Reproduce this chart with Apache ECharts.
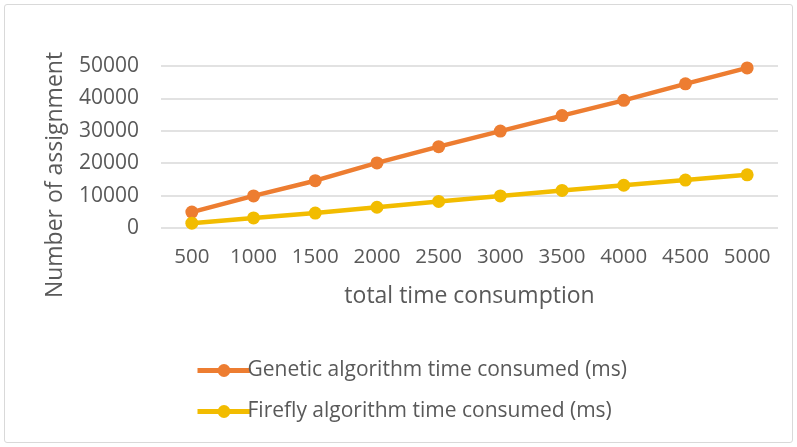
<!DOCTYPE html>
<html><head><meta charset="utf-8">
<script src="https://cdn.jsdelivr.net/npm/echarts@6/dist/echarts.min.js"></script>
<style>html,body{margin:0;padding:0;background:#fff}
#wrap{position:absolute;left:4px;top:4px;width:787px;height:437px;border:1px solid #d9d9d9;border-radius:3px}
#c{position:absolute;left:0;top:0;width:797px;height:447px}</style>
</head><body><div id="wrap"></div><div id="c"></div>
<script>
var categories = ['500','1000','1500','2000','2500','3000','3500','4000','4500','5000'];
var geneticValues = [4900, 9900, 14600, 20100, 25100, 29900, 34700, 39400, 44500, 49400];
var fireflyValues = [1500, 3100, 4600, 6400, 8200, 9900, 11600, 13200, 14800, 16400];
var seriesNames = ['Genetic algorithm time consumed (ms)', 'Firefly algorithm time consumed (ms)'];
var xTitle = 'total time consumption';
var yTitle = 'Number of assignment';

var font = 'Open Sans';
var chart = echarts.init(document.getElementById('c'));
chart.setOption({
  animation: false,
  grid: {left: 161, right: 19, top: 66, bottom: 219, containLabel: false},
  graphic: [{
    type: 'text', x: 55, y: 175, rotation: Math.PI / 2,
    style: {text: yTitle, fill: '#595959', fontSize: 23, fontFamily: font, align: 'center', verticalAlign: 'middle'}
  }],
  xAxis: {
    type: 'category', data: categories, boundaryGap: true,
    name: xTitle, nameLocation: 'middle', nameGap: 57,
    nameTextStyle: {color: '#595959', fontSize: 23, fontFamily: font},
    axisLine: {show: false}, axisTick: {show: false},
    axisLabel: {color: '#595959', fontSize: 20.5, fontFamily: font, margin: 19, interval: 0, hideOverlap: false}
  },
  yAxis: {
    type: 'value', min: 0, max: 50000, interval: 10000,
    axisLine: {show: false}, axisTick: {show: false},
    axisLabel: {color: '#595959', fontSize: 21, fontFamily: font, margin: 22, formatter: function (v) { return String(v); }},
    splitLine: {lineStyle: {color: '#d9d9d9', width: 1.5}}
  },
  legend: {
    orient: 'vertical', left: 190, top: 355, itemGap: 20,
    itemWidth: 53, itemHeight: 16,
    lineStyle: {width: 5},
    textStyle: {color: '#595959', fontSize: 21, fontFamily: font, padding: [0,0,0,-8]},
    data: seriesNames
  },
  series: [
    {name: seriesNames[0], type: 'line', data: geneticValues, symbol: 'circle', symbolSize: 13,
     lineStyle: {color: '#ED7D31', width: 4.5}, itemStyle: {color: '#ED7D31'}},
    {name: seriesNames[1], type: 'line', data: fireflyValues, symbol: 'circle', symbolSize: 13,
     lineStyle: {color: '#F2BC00', width: 4.5}, itemStyle: {color: '#F2BC00'}}
  ]
});
</script></body></html>
